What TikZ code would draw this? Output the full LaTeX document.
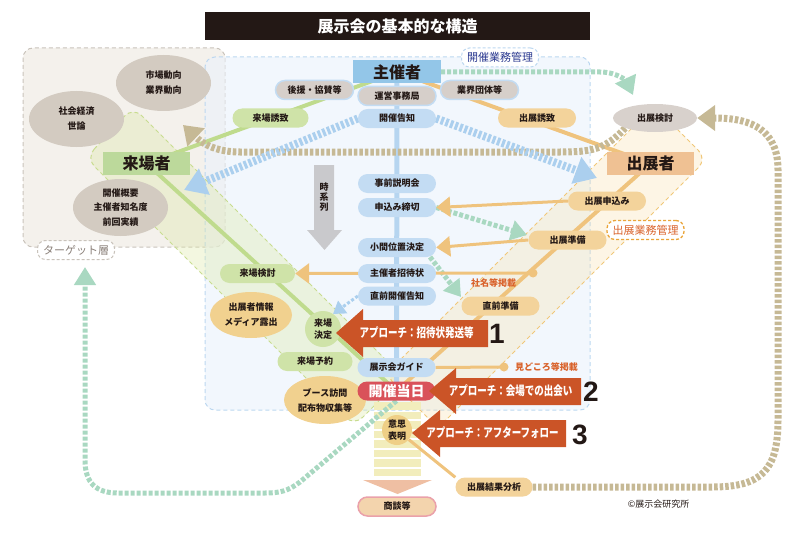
\documentclass[tikz,border=0pt]{standalone}
\usepackage{fontspec}
\setmainfont{Noto Sans CJK JP}
\newfontfamily\numfont{Liberation Sans}
\usetikzlibrary{shapes.geometric,arrows.meta,backgrounds}
\definecolor{txt}{HTML}{231815}
\definecolor{pblue}{HTML}{C3DCF3}
\definecolor{pgray}{HTML}{D6CFCA}
\definecolor{pgreen}{HTML}{CFE3A8}
\definecolor{porange}{HTML}{F3D39B}
\definecolor{egray}{HTML}{D3CBC1}
\definecolor{egray2}{HTML}{D8D1CC}
\definecolor{eorange}{HTML}{F1D18F}
\definecolor{appr}{HTML}{CB5427}
\definecolor{beige}{HTML}{C6B995}
\definecolor{mint}{HTML}{A9D8C1}
\definecolor{dblue}{HTML}{ABCFEE}
\definecolor{lorange}{HTML}{EFC37D}
\definecolor{lgreen}{HTML}{BFDB8D}
\definecolor{vblue}{HTML}{B6D5F0}
\definecolor{redday}{HTML}{D9525A}
\definecolor{labred}{HTML}{D9622B}
\definecolor{navy}{HTML}{2B3990}
\definecolor{hgreen}{HTML}{BCD99B}
\definecolor{horange}{HTML}{EFC193}
\definecolor{hblue}{HTML}{93C6E8}
\definecolor{tgtfill}{HTML}{F4F1EC}
\definecolor{tgtdraw}{HTML}{C9C3BB}
\definecolor{tgttext}{HTML}{8A8079}
\definecolor{orgfill}{HTML}{EAF2FB}
\definecolor{orgdraw}{HTML}{BCD7F0}
\definecolor{bandg}{HTML}{DDE8A6}
\definecolor{bandgd}{HTML}{C8DC8F}
\definecolor{bando}{HTML}{F8DFA8}
\definecolor{bandod}{HTML}{F0C779}
\definecolor{timegray}{HTML}{C9C9CC}
\definecolor{barcol}{HTML}{F2EDBC}
\definecolor{pinkhead}{HTML}{EFBFA3}
\definecolor{ishicol}{HTML}{EFCF86}
\definecolor{shodan}{HTML}{F3D4AD}
\definecolor{shodand}{HTML}{EAA1AA}
\definecolor{gyokumu}{HTML}{EAA53A}
\begin{document}
\begin{tikzpicture}[x=1pt,y=-1pt,
  pill/.style={rounded corners=9.5pt, minimum width=#1, minimum height=19pt, inner sep=0pt,
    font=\fontsize{9}{10}\selectfont\bfseries, text=txt},
  pill/.default=78pt,
  bpill/.style={pill, fill=pblue},
  gypill/.style={pill, fill=pgray, draw=pblue, line width=1.5pt},
  grpill/.style={pill=#1, fill=pgreen}, grpill/.default=76pt,
  orpill/.style={pill=#1, fill=porange}, orpill/.default=78pt,
  ell/.style={ellipse, inner sep=0pt, minimum width=95pt, minimum height=56pt, fill=egray,
    align=center, font=\fontsize{9}{15}\selectfont\bfseries, text=txt},
  headlabel/.style={minimum width=88pt, minimum height=23pt, inner sep=0pt,
    font=\fontsize{16}{16}\selectfont\bfseries, text=txt},
  apptext/.style={text=white, font=\fontsize{12.5}{13}\selectfont\bfseries, inner sep=0pt},
  numstyle/.style={text=txt, font=\fontsize{28}{28}\selectfont\numfont\bfseries, inner sep=0pt},
  smalllab/.style={text=labred, font=\fontsize{9}{10}\selectfont\bfseries, inner sep=0pt},
  beigedot/.style={draw=beige, line width=7pt, dash pattern=on 3.5pt off 2pt},
  bluedot/.style={draw=dblue, line width=8pt, dash pattern=on 3pt off 2pt},
  mintdot/.style={draw=mint, line width=5pt, dash pattern=on 4pt off 2pt},
  oarrow/.style={draw=lorange, line width=3pt, -{Triangle[length=14pt,width=20pt]}},
  approach/.style={fill=appr},
  areabox/.style={line width=1pt, dash pattern=on 4pt off 3pt, rounded corners=10pt},
  tag/.style={line width=1pt, dash pattern=on 3pt off 2pt, rounded corners=8pt, fill=white,
    minimum width=77pt, minimum height=19pt, inner sep=0pt, font=\fontsize{11}{11}\selectfont},
  circ/.style={circle, inner sep=0pt, align=center, font=\fontsize{9}{12}\selectfont\bfseries, text=txt},
]
\useasboundingbox (0,0) rectangle (802,532);

% ---------- title ----------
\node[fill=txt, minimum width=385pt, minimum height=28pt, inner sep=0pt, text=white,
  font=\fontsize{16}{16}\selectfont\bfseries] (title) at (397.5,26) {展示会の基本的な構造};

% ---------- bottom head ----------
\fill[pinkhead] (363,480) -- (432,480) -- (397.5,494) -- cycle;

% ---------- time arrow ----------
\fill[timegray] (314,165) -- (334,165) -- (334,230) -- (342,230) -- (324.5,250) -- (307,230) -- (314,230) -- cycle;
\node[align=center, inner sep=0pt, text=txt, font=\fontsize{9}{10}\selectfont\bfseries] (jikei) at (324,197) {時\\系\\列};

% ---------- head labels ----------
\node[headlabel, fill=hblue] (shusai) at (397,72) {主催者};
\node[headlabel, fill=hgreen, minimum width=87pt] (raijo) at (146.5,163.5) {来場者};
\node[headlabel, fill=horange, minimum width=87pt] (shutten) at (650.5,163.5) {出展者};

% ---------- area tags ----------
\node[tag, draw=tgtdraw, text=tgttext] (tlabel) at (76,250) {ターゲット層};
\node[tag, draw=orgdraw, text=navy] (olabel) at (500,57.5) {開催業務管理};
\node[tag, draw=gyokumu, text=labred, line width=1.3pt] (elabel) at (645.5,230) {出展業務管理};

% ---------- ellipses ----------
\node[ell] (shijo) at (163.5,83) {市場動向\\業界動向};
\node[ell] (shakai) at (76.5,119) {社会経済\\世論};
\node[ell, minimum height=57pt, font=\fontsize{9}{14.5}\selectfont\bfseries] (gaiyo) at (120.5,207.5) {開催概要\\主催者知名度\\前回実績};
\node[ell, minimum width=84pt, minimum height=28pt, fill=egray2] (kentou) at (655,118) {出展検討};
\node[ell, fill=eorange, minimum width=82pt, minimum height=46pt] (media) at (251,315) {出展者情報\\メディア露出};
\node[ell, fill=eorange, minimum width=82pt, minimum height=48pt] (booth) at (325,400) {ブース訪問\\配布物収集等};
\node[circ, fill=pgreen, minimum size=36pt] (kettei) at (323,329) {来場\\決定};
\node[circ, fill=ishicol, minimum size=30pt] (ishi) at (397,430) {意思\\表明};

% ---------- organizer column ----------
\node[gypill] (jimu) at (397,96) {運営事務局};
\node[gypill] (kouen) at (314.5,90) {後援・協賛等};
\node[gypill] (dantai) at (479.5,90) {業界団体等};
\node[bpill] (kokuchi) at (397,118.5) {開催告知};
\node[bpill] (setsumei) at (397,183.5) {事前説明会};
\node[bpill] (shimekiri) at (397,207.5) {申込み締切};
\node[bpill] (koma) at (397,247.5) {小間位置決定};
\node[bpill] (shotai) at (397,273.5) {主催者招待状};
\node[bpill] (chokuzen) at (397,296) {直前開催告知};
\node[bpill] (guide) at (396.5,367.5) {展示会ガイド};
\node[pill, fill=redday, text=white, font=\fontsize{14}{14}\selectfont\bfseries] (kaisai) at (396.5,391) {開催当日};
\node[pill, fill=shodan, draw=shodand, line width=1.5pt] (shodanN) at (397,506.5) {商談等};

% ---------- visitor side ----------
\node[grpill] (yuchi) at (270.5,118) {来場誘致};
\node[grpill=75pt] (kentou2) at (257.5,273.5) {来場検討};
\node[grpill=75pt] (yoyaku) at (315,361.5) {来場予約};

% ---------- exhibitor side ----------
\node[orpill] (tyuchi) at (537,118) {出展誘致};
\node[orpill] (moushi) at (607,201) {出展申込み};
\node[orpill] (junbi) at (567.5,240) {出展準備};
\node[orpill] (tjunbi) at (500.5,306) {直前準備};
\node[orpill=77pt] (bunseki) at (494,487) {出展結果分析};

% ---------- small labels ----------
\node[smalllab] (shamei) at (493.5,283) {社名等掲載};
\node[smalllab] (midokoro) at (546.5,367) {見どころ等掲載};
\node[inner sep=0pt, text=txt, font=\fontsize{9}{10}\selectfont] (copy) at (658.5,504) {©展示会研究所};

% ---------- background layer: areas, bands, connectors ----------
\begin{scope}[on background layer]
  \draw[areabox, draw=tgtdraw, fill=tgtfill] (23,48) rectangle (225,247);
  \draw[areabox, draw=orgdraw, fill=orgfill, fill opacity=0.6] (205,57) rectangle (590,410);
  \draw[dash pattern=on 4pt off 3pt, line width=1pt, draw=bandgd, fill=bandg, fill opacity=0.35, rounded corners=12pt]
    (86,158) -- (133,107) -- (403,377) -- (354,426) -- cycle;
  \draw[dash pattern=on 4pt off 3pt, line width=1pt, draw=bandod, fill=bando, fill opacity=0.3, rounded corners=12pt]
    (654,106) -- (707,159) -- (438,428) -- (385,375) -- cycle;

  % bars
  \foreach \yy in {402,411.5,421,430.5,440,449.5,459,468.5}
    \fill[barcol] (374,\yy) rectangle (421,\yy+7.5);

  % main thick lines
  \draw[line width=4pt, lgreen] (shusai.center) -- (raijo.center);
  \draw[line width=4pt, lorange] (shusai.center) -- (shutten.center);
  \draw[line width=4pt, lgreen] (raijo.center) -- (kaisai.center);
  \draw[line width=4pt, lorange] (shutten.center) -- (kaisai.center);
  \draw[line width=5pt, vblue] (shusai.center) -- (kaisai.center);

  % beige dotted feedback lines
  \coordinate (btip) at (183,125);
  \draw[beigedot, -{Triangle[length=18pt,width=24pt]}]
    (kentou.south west) .. controls (605,150) and (590,152) .. (560,152) -- (240,152)
    .. controls (218,152) and (204,145) .. (btip);
  \draw[beigedot, -{Triangle[length=18pt,width=25pt]}]
    (bunseki.east) -- (712,487) .. controls (762,487) and (778,470) .. (778,420) -- (778,170)
    .. controls (778,130) and (752,118) .. (kentou.east);

  % blue dotted announcement lines
  \coordinate (bltip) at (184,190);
  \coordinate (brtip) at (597,178);
  \draw[bluedot, -{Triangle[length=22pt,width=27pt]}] (kokuchi.west) -- (bltip);
  \draw[bluedot, -{Triangle[length=22pt,width=27pt]}] (kokuchi.east) -- (brtip);

  % mint dotted lines
  \coordinate (mtip1) at (633,95);
  \draw[mintdot, -{Triangle[length=18pt,width=22pt]}]
    (shusai.east) -- (600,72) .. controls (618,72) and (627,82) .. (mtip1);
  \coordinate (mtip2) at (527,235);
  \draw[mintdot, -{Triangle[length=16pt,width=20pt]}] (shimekiri.east) -- (mtip2);
  \coordinate (mtip3) at (461,297);
  \coordinate (mst3) at (430,257);
  \draw[mintdot, -{Triangle[length=16pt,width=20pt]}] (mst3) -- (mtip3);
  \coordinate (mtip4) at (85,267);
  \draw[mintdot, -{Triangle[length=18pt,width=21pt]}]
    (kaisai.south) -- (300,482) .. controls (288,491) and (280,493) .. (265,493) -- (118,493)
    .. controls (96,493) and (85,483) .. (85,460) -- (mtip4);
  \coordinate (ltip) at (333,314);
  \draw[draw=dblue, line width=3pt, dash pattern=on 3pt off 2pt, -{Triangle[length=12pt,width=15pt]}]
    (chokuzen.west) -- (ltip);

  % orange arrows and lines
  \draw[oarrow] (moushi.west) -- (shimekiri.east);
  \draw[oarrow] (junbi.west) -- (koma.east);
  \coordinate (odot) at (533,273);
  \draw[oarrow] (odot) -- (kentou2.east);
  \fill[lorange] (odot) circle (4.5pt);
  \coordinate (mdot) at (504,367);
  \draw[draw=lorange, line width=3pt] (guide.east) -- (mdot);
  \fill[lorange] (mdot) circle (4.5pt);
  \draw[draw=lorange, line width=3pt] (ishi) -- (bunseki.north west);
\end{scope}

% ---------- approach arrows ----------
\fill[approach] (336,333) -- (363,309) -- (363,320) -- (488,320) -- (488,347) -- (363,347) -- (363,357) -- cycle;
\node[apptext] (a1) at (416.5,333) {\scalebox{0.76}[1]{アプローチ：招待状発送等}};
\node[numstyle] (n1) at (497,334) {1};
\fill[approach] (429,391) -- (456,368) -- (456,378) -- (581,378) -- (581,405) -- (456,405) -- (456,414) -- cycle;
\node[apptext] (a2) at (510.5,391) {\scalebox{0.76}[1]{アプローチ：会場での出会い}};
\node[numstyle] (n2) at (591,392) {2};
\fill[approach] (412,433) -- (440,410) -- (440,420) -- (566,420) -- (566,447) -- (440,447) -- (440,457) -- cycle;
\node[apptext] (a3) at (492.5,433) {\scalebox{0.76}[1]{アプローチ：アフターフォロー}};
\node[numstyle] (n3) at (580,435) {3};
\end{tikzpicture}
\end{document}
